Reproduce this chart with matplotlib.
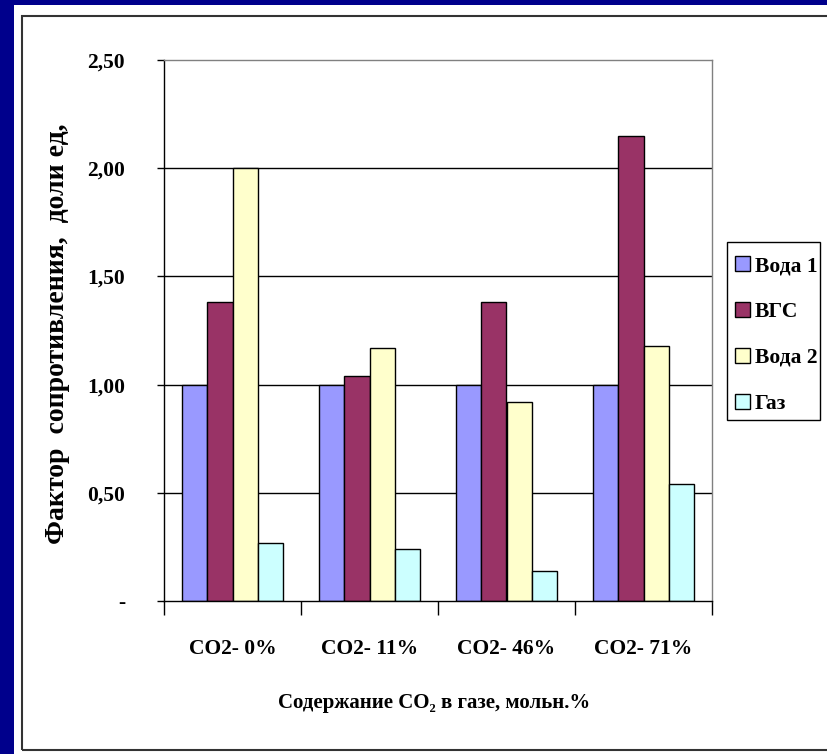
import numpy as np
import matplotlib
matplotlib.use("Agg")
import matplotlib.pyplot as plt
from matplotlib.patches import Rectangle
from matplotlib import font_manager as fm

# Times-like bold serif, picked by file so nothing falls back to sans
serif_bold = None
for f in fm.fontManager.ttflist:
    if f.fname.endswith("LiberationSerif-Bold.ttf"):
        serif_bold = f.fname
        break


def fp(size):
    if serif_bold:
        return fm.FontProperties(fname=serif_bold, size=size)
    return fm.FontProperties(family="serif", weight="bold", size=size)


categories = ["CO2- 0%", "CO2- 11%", "CO2- 46%", "CO2- 71%"]
series_names = ["Вода 1", "ВГС", "Вода 2", "Газ"]
voda1 = [1.00, 1.00, 1.00, 1.00]
vgs = [1.38, 1.04, 1.38, 2.15]
voda2 = [2.00, 1.17, 0.92, 1.18]
gaz = [0.27, 0.24, 0.14, 0.54]
colors = ["#9999FF", "#993366", "#FFFFCC", "#CCFFFF"]
yticks = [0, 0.5, 1.0, 1.5, 2.0, 2.5]
yticklabels = ["-", "0,50", "1,00", "1,50", "2,00", "2,50"]

W, H = 827, 754
fig = plt.figure(figsize=(W / 100, H / 100), dpi=100)
fig.patch.set_facecolor("#00008C")

# white slide panel and its frame
fig.patches.append(Rectangle((14 / W, 0), 1, 1 - 5 / H, transform=fig.transFigure,
                             facecolor="white", edgecolor="none", zorder=-2))
fig.patches.append(Rectangle((22 / W, 4 / H), 1, (750 - 16) / H, transform=fig.transFigure,
                             facecolor="none", edgecolor="#333333", linewidth=1.5, zorder=-1))

ax = fig.add_axes([164 / W, 1 - 601 / H, (712 - 164) / W, (601 - 60) / H])
ax.set_facecolor("white")

data = [voda1, vgs, voda2, gaz]
x = np.arange(len(categories))
w = 0.1825
for k, (vals, name, c) in enumerate(zip(data, series_names, colors)):
    ax.bar(x + (k - 1.5) * w, vals, width=w, color=c, edgecolor="black",
           linewidth=1.0, label=name, zorder=3)

ax.set_xlim(-0.5, 3.5)
ax.set_ylim(0, 2.5)

for y in [0.5, 1.0, 1.5, 2.0]:
    ax.axhline(y, color="black", linewidth=1.0, zorder=1)

ax.spines["top"].set_color("#808080")
ax.spines["right"].set_color("#808080")
ax.spines["left"].set_color("black")
ax.spines["bottom"].set_color("black")
for s in ax.spines.values():
    s.set_linewidth(1.0)
ax.spines["bottom"].set_zorder(4)

ax.set_yticks(yticks)
ax.set_yticklabels(yticklabels, fontproperties=fp(15.5))
ax.tick_params(axis="y", direction="out", length=5, width=1, pad=23)

ax.set_xticks(np.arange(-0.5, 4, 1.0))
ax.set_xticklabels([])
ax.set_xticks(x, minor=True)
ax.set_xticklabels(categories, minor=True, fontproperties=fp(15.5))
ax.tick_params(axis="x", which="major", direction="out", length=10, width=1)
ax.tick_params(axis="x", which="minor", length=0, pad=27)

fig.text(434 / W, 1 - 703 / H, "Содержание CO₂ в газе, мольн.%",
         ha="center", va="center", fontproperties=fp(15))
fig.text(58 / W, 1 - 334 / H, "Фактор  сопротивления,  доли ед,", rotation=90,
         ha="center", va="center", fontproperties=fp(20))

# legend box drawn by hand: Excel keeps a tight frame on the sides
fig.patches.append(Rectangle((727 / W, 1 - 420 / H), (820 - 727) / W, (420 - 242) / H,
                             transform=fig.transFigure, facecolor="white",
                             edgecolor="black", linewidth=1.0, zorder=1))
leg = fig.legend(loc="upper left", bbox_to_anchor=(735 / W, 1 - 256 / H), ncol=1,
                 prop=fp(15.5), frameon=False, borderaxespad=0, borderpad=0,
                 labelspacing=1.2, handlelength=0.7, handleheight=0.7,
                 handletextpad=0.22)
leg.set_zorder(2)

plt.savefig("out.png", dpi=100, facecolor=fig.get_facecolor())
